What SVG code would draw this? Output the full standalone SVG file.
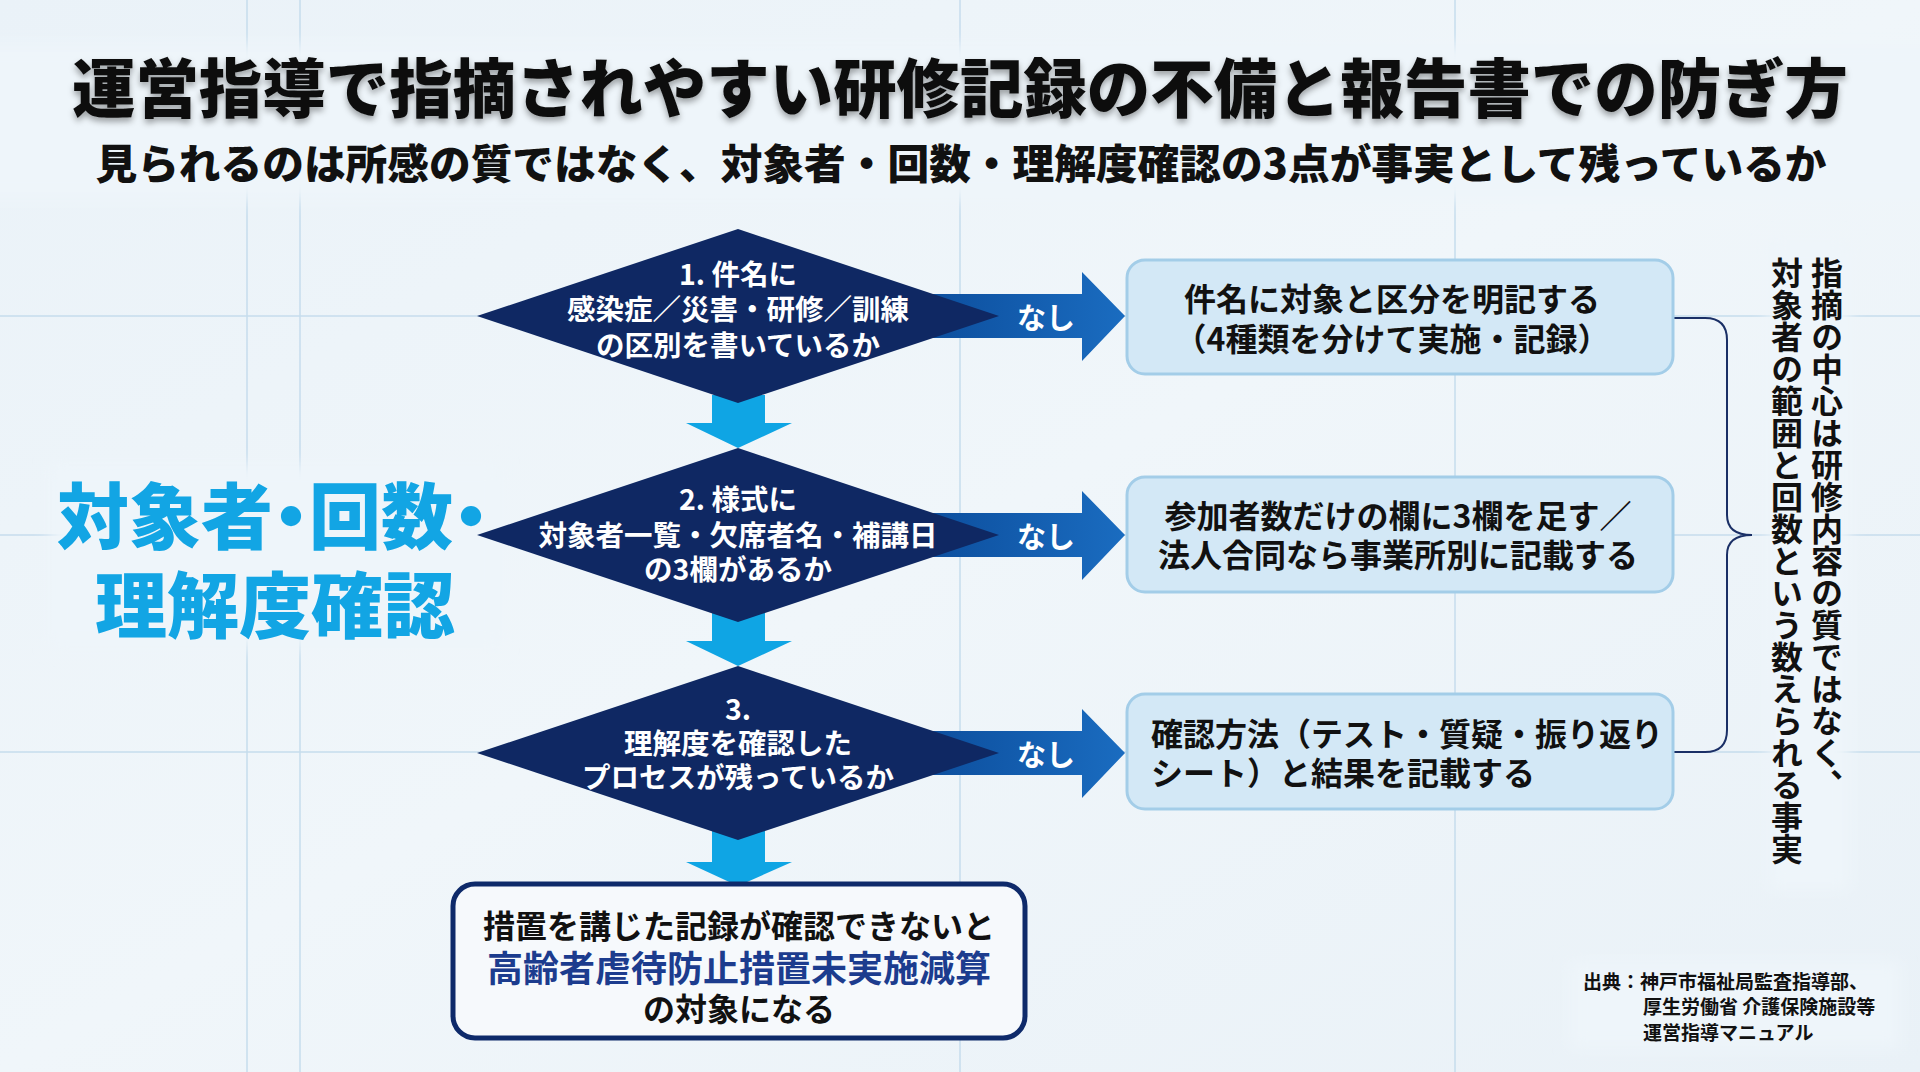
<svg xmlns="http://www.w3.org/2000/svg" width="1920" height="1072" viewBox="0 0 1920 1072">
<defs>
<style>
text{font-family:"Noto Sans CJK JP","Noto Sans CJK SC",sans-serif;dominant-baseline:central}
.grid{stroke:#c6dcec;stroke-width:1.5;fill:none}
.halo{fill:#eef5fa;filter:url(#blur)}
.dia{fill:#0f2863}
.dtxt{fill:#ffffff;font-size:28.5px;font-weight:700;text-anchor:middle}
.down{fill:#0fa5e4}
.right{fill:url(#hg)}
.nashi{fill:#ffffff;font-size:29px;font-weight:700;text-anchor:middle}
.box{fill:#d3e8f6;stroke:#a3cde8;stroke-width:3}
.btxt{fill:#111111;font-size:32px;font-weight:700}
.vtxt{fill:#111111;font-size:32px;font-weight:700;writing-mode:vertical-rl}
.kw{font-size:72px;font-weight:900;fill:#12a5e4;text-anchor:middle;font-feature-settings:"palt"}
</style>
<filter id="blur" x="-20%" y="-20%" width="140%" height="140%"><feGaussianBlur stdDeviation="8"/></filter>
<filter id="shadow" x="-5%" y="-30%" width="110%" height="160%"><feDropShadow dx="0" dy="4" stdDeviation="3" flood-color="#000000" flood-opacity="0.35"/></filter>
<linearGradient id="hg" x1="0" y1="0" x2="1" y2="0"><stop offset="0" stop-color="#0d4f9e"/><stop offset="1" stop-color="#1a6cc0"/></linearGradient>
<linearGradient id="bg" x1="0" y1="0" x2="1" y2="1"><stop offset="0" stop-color="#eaf2f8"/><stop offset="0.5" stop-color="#f0f6fa"/><stop offset="1" stop-color="#e9f1f7"/></linearGradient>
</defs>
<rect width="1920" height="1072" fill="url(#bg)"/>
<g id="grid">
<line class="grid" x1="247" y1="0" x2="247" y2="1072"/>
<line class="grid" x1="300" y1="0" x2="300" y2="1072"/>
<line class="grid" x1="960" y1="0" x2="960" y2="1072"/>
<line class="grid" x1="1455" y1="0" x2="1455" y2="1072"/>
<line class="grid" x1="0" y1="316" x2="1920" y2="316"/>
<line class="grid" x1="0" y1="535" x2="1920" y2="535"/>
<line class="grid" x1="0" y1="752" x2="1920" y2="752"/>
</g>
<g id="halos">
<rect class="halo" x="-20" y="44" width="1960" height="156"/>
<rect class="halo" x="50" y="464" width="452" height="184"/>
<rect class="halo" x="1768" y="240" width="82" height="650"/>
<rect class="halo" x="1570" y="962" width="330" height="86"/>
</g>
<g id="title">
<text x="960" y="84" font-size="64" font-weight="900" fill="#111111" text-anchor="middle" textLength="1776" lengthAdjust="spacingAndGlyphs" filter="url(#shadow)">運営指導で指摘されやすい研修記録の不備と報告書での防ぎ方</text>
<text x="961" y="161" font-size="41" font-weight="900" fill="#111111" text-anchor="middle" textLength="1731" lengthAdjust="spacingAndGlyphs">見られるのは所感の質ではなく、対象者・回数・理解度確認の3点が事実として残っているか</text>
</g>
<g id="keyword">
<text class="kw" x="273" y="511">対象者・回数・</text>
<text class="kw" x="275" y="600">理解度確認</text>
</g>
<g id="connectors">
<polygon class="down" points="712,395 765,395 765,423 792,423 738,448 686,423 712,423"/>
<polygon class="down" points="712,613 765,613 765,641 792,641 738,666 686,641 712,641"/>
<polygon class="down" points="712,830 765,830 765,862 792,862 738,886 686,862 712,862"/>
<polygon class="right" points="930,294 1082,294 1082,272 1125,316 1082,361 1082,338 930,338"/>
<polygon class="right" points="930,513 1082,513 1082,491 1125,535 1082,580 1082,557 930,557"/>
<polygon class="right" points="930,731 1082,731 1082,709 1125,753 1082,798 1082,775 930,775"/>
<path d="M1674,318 L1705,318 Q1727,318 1727,340 L1727,515 Q1727,535 1752,535 Q1727,535 1727,555 L1727,730 Q1727,752 1705,752 L1674,752" fill="none" stroke="#1a2f66" stroke-width="2"/>
</g>
<g id="nashi-labels">
<text class="nashi" x="1046" y="316">なし</text>
<text class="nashi" x="1046" y="535">なし</text>
<text class="nashi" x="1046" y="753">なし</text>
</g>
<g id="q1">
<polygon class="dia" points="738,229 999,316 738,403 477,316"/>
<text class="dtxt" x="738" y="272">1. 件名に</text>
<text class="dtxt" x="738" y="307">感染症／災害・研修／訓練</text>
<text class="dtxt" x="738" y="343">の区別を書いているか</text>
</g>
<g id="q2">
<polygon class="dia" points="738,448 999,535 738,622 477,535"/>
<text class="dtxt" x="738" y="497">2. 様式に</text>
<text class="dtxt" x="738" y="533">対象者一覧・欠席者名・補講日</text>
<text class="dtxt" x="738" y="567">の3欄があるか</text>
</g>
<g id="q3">
<polygon class="dia" points="738,666 999,753 738,840 477,753"/>
<text class="dtxt" x="738" y="707">3.</text>
<text class="dtxt" x="738" y="741">理解度を確認した</text>
<text class="dtxt" x="738" y="775">プロセスが残っているか</text>
</g>
<g id="fix1">
<rect class="box" x="1127" y="260" width="546" height="114" rx="18"/>
<text class="btxt" x="1392" y="297" text-anchor="middle">件名に対象と区分を明記する</text>
<text class="btxt" x="1392" y="337" text-anchor="middle">（4種類を分けて実施・記録）</text>
</g>
<g id="fix2">
<rect class="box" x="1127" y="477" width="546" height="115" rx="18"/>
<text class="btxt" x="1398" y="514" text-anchor="middle">参加者数だけの欄に3欄を足す／</text>
<text class="btxt" x="1398" y="553" text-anchor="middle">法人合同なら事業所別に記載する</text>
</g>
<g id="fix3">
<rect class="box" x="1127" y="694" width="546" height="115" rx="18"/>
<text class="btxt" x="1151" y="732">確認方法（テスト・質疑・振り返り</text>
<text class="btxt" x="1151" y="771">シート）と結果を記載する</text>
</g>
<g id="result">
<rect x="453" y="884" width="572" height="154" rx="22" fill="#f6f9fc" stroke="#0e2a6a" stroke-width="5"/>
<text x="739" y="924" font-size="32" font-weight="700" fill="#111111" text-anchor="middle">措置を講じた記録が確認できないと</text>
<text x="739" y="966" font-size="36" font-weight="700" fill="#1c3c8e" text-anchor="middle">高齢者虐待防止措置未実施減算</text>
<text x="739" y="1007" font-size="32" font-weight="700" fill="#111111" text-anchor="middle">の対象になる</text>
</g>
<g id="summary">
<text class="vtxt" x="1827" y="257">指摘の中心は研修内容の質ではなく、</text>
<text class="vtxt" x="1787" y="257">対象者の範囲と回数という数えられる事実</text>
</g>
<g id="source">
<text x="1583" y="980" font-size="19" font-weight="700" fill="#111111">出典：神戸市福祉局監査指導部、</text>
<text x="1643" y="1005" font-size="19" font-weight="700" fill="#111111">厚生労働省 介護保険施設等</text>
<text x="1643" y="1031" font-size="19" font-weight="700" fill="#111111">運営指導マニュアル</text>
</g>
</svg>
